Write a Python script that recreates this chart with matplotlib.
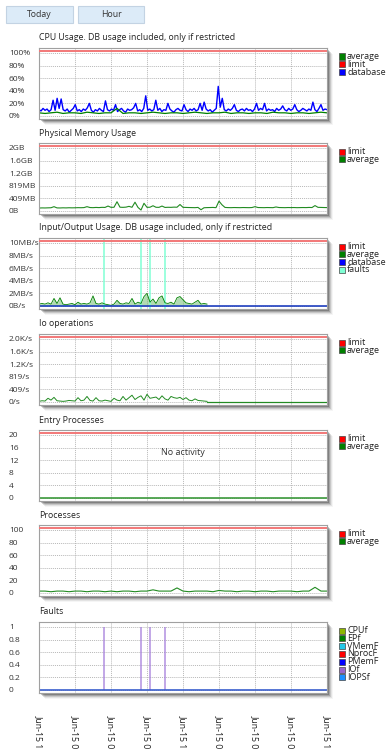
import numpy as np
import matplotlib.pyplot as plt
from matplotlib.patches import Rectangle

plt.rcParams['font.family'] = ['Open Sans', 'DejaVu Sans']

W, H = 386, 750

# Data

# only the visible start of each time label survives at the bottom edge
x_labels = ['Jun-15 1', 'Jun-15 0', 'Jun-15 0', 'Jun-15 0', 'Jun-15 1',
            'Jun-15 0', 'Jun-15 0', 'Jun-15 0', 'Jun-15 1']

cpu_db = [10, 8, 12, 9, 11, 7, 10, 25, 9, 28, 12, 27,
          10, 8, 11, 6, 9, 12, 18, 8, 10, 7, 11, 9,
          13, 20, 9, 6, 10, 8, 12, 9, 7, 24, 10, 8,
          11, 9, 18, 7, 10, 12, 8, 6, 11, 9, 10, 13,
          20, 8, 10, 7, 12, 32, 9, 11, 8, 10, 25, 9,
          12, 7, 10, 9, 20, 11, 8, 6, 10, 12, 9, 8,
          18, 10, 7, 11, 9, 12, 8, 10, 20, 9, 22, 11,
          8, 10, 6, 9, 12, 47, 14, 28, 10, 8, 11, 9,
          12, 18, 9, 7, 10, 11, 8, 12, 9, 10, 7, 11,
          20, 9, 12, 10, 20, 8, 11, 9, 10, 7, 12, 9,
          11, 16, 10, 8, 12, 9, 11, 18, 10, 7, 9, 12,
          10, 8, 11, 9, 22, 10, 7, 12, 18, 9, 11, 10]
cpu_avg = [5, 4, 5, 6, 4, 5, 5, 4, 6, 5, 4, 5,
           5, 12, 4, 5, 5, 4, 5, 6, 5, 4, 5, 5,
           4, 5, 6, 5, 4, 5, 5, 6, 4, 5, 5, 4,
           5, 5, 4, 6, 5, 5, 4, 5, 5, 4, 5, 6, 5]
cpu_limit = 103

mem_avg = [95, 100, 98, 102, 105, 140, 100, 98, 103, 100, 105, 102,
           104, 108, 106, 110, 140, 112, 108, 115, 110, 118, 115, 160,
           118, 120, 300, 122, 118, 125, 150, 120, 285, 115, 30, 250,
           118, 122, 170, 120, 118, 160, 115, 120, 118, 125, 122, 210,
           118, 115, 112, 110, 108, 115, 40, 105, 110, 112, 115, 108,
           320, 200, 115, 110, 108, 112, 110, 108, 112, 110, 108, 112,
           140, 112, 110, 108, 112, 110, 108, 130, 112, 110, 108, 112,
           110, 112, 108, 110, 112, 110, 115, 112, 175, 118, 115, 112, 110]
mem_limit = 2110

io_end = 14
io_avg = [0.3, 0.4, 0.3, 0.5, 0.3, 1.2, 0.4, 1.3, 0.3, 0.2, 0.3, 0.4,
          0.2, 0.6, 0.3, 0.4, 0.3, 0.5, 1.6, 0.4, 0.3, 0.5, 0.3, 0.2,
          0.1, 0.3, 0.9, 0.4, 0.3, 0.5, 0.4, 1.2, 0.3, 0.6, 0.4, 1.5,
          2.0, 0.6, 1.1, 0.4, 1.3, 1.6, 0.5, 0.4, 0.6, 0.3, 1.3, 1.5,
          1.0, 0.5, 0.4, 0.3, 0.6, 0.9, 0.3, 0.4, 0.3]
io_db = [0, 0]
io_limit = 10.3
fault_times = [5.4, 8.5, 9.25, 10.5]

ops_avg = [20, 40, 30, 120, 60, 150, 40, 30, 20, 30, 50, 40,
           30, 140, 40, 60, 180, 50, 30, 140, 40, 30, 60, 40,
           20, 120, 60, 40, 180, 60, 140, 220, 80, 150, 200, 60,
           250, 120, 140, 160, 80, 200, 100, 60, 180, 140, 120, 150,
           80, 140, 60, 40, 100, 50, 40, 30, 20]
ops_tail = [0, 0]
ops_limit = 2110

ep_avg = [0, 0]
ep_limit = 20.6

proc_avg = [3, 3, 2, 3, 3, 2, 3, 3, 2, 3, 3, 2,
            3, 2, 3, 3, 2, 3, 3, 5, 3, 3, 3, 8,
            3, 2, 3, 3, 3, 2, 4, 3, 3, 2, 3, 3,
            2, 3, 3, 2, 3, 3, 3, 2, 3, 3, 9, 3, 3]
proc_limit = 103

fault_zero = [0, 0]

fig = plt.figure(figsize=(W / 100, H / 100), dpi=100)


def fx(x):
    return x / W


def fy(y):
    return 1 - y / H


def panel(top, title, yticks, ylabels, limit, h=71):
    ax = fig.add_axes([fx(39), fy(top + h), 288 / W, h / H])
    T = yticks[-1]
    ax.set_xlim(0, 24)
    ax.set_ylim(-0.048 * T, 1.079 * T)
    ax.set_xticks(np.arange(0, 25, 3))
    ax.set_yticks(yticks)
    ax.set_yticklabels(ylabels, ha='left')
    ax.tick_params(length=0, labelsize=6, labelcolor='#333333')
    ax.tick_params(axis='y', pad=21.6)
    ax.tick_params(axis='x', labelbottom=False)
    ax.grid(True, color='#b8b8b8', lw=0.7, ls=(0, (1, 1)))
    ax.set_axisbelow(True)
    for s in ax.spines.values():
        s.set_color('#a0a0a0')
        s.set_linewidth(0.8)
    ax.axhline(limit, color='#f27878', lw=1.4, zorder=3)
    fig.text(fx(39), fy(top - 10), title, fontsize=6.3, va='center', ha='left', color='#222222')
    # drop shadow
    for off, a in [(1, 0.28), (2, 0.22), (3, 0.17), (4, 0.12), (5, 0.07), (6, 0.04)]:
        fig.patches.append(Rectangle((fx(39 + off), fy(top + h + off)), 288 / W, h / H,
                                     transform=fig.transFigure, fc='black', ec='none',
                                     alpha=a, zorder=-1))
    return ax


def legend(top, items):
    for j, (name, color) in enumerate(items):
        y = top + 8.5 + 7.8 * j
        fig.patches.append(Rectangle((fx(339), fy(y + 3)), 6 / W, 6 / H,
                                     transform=fig.transFigure, fc=color, ec='#444444', lw=0.5))
        fig.text(fx(347), fy(y), name, fontsize=6.5, va='center', ha='left', color='#222222')


# Buttons
for x0, x1, label in [(6, 73, 'Today'), (78, 144, 'Hour')]:
    fig.patches.append(Rectangle((fx(x0), fy(23)), (x1 - x0) / W, 17 / H,
                                 transform=fig.transFigure, fc='#dcebf8', ec='#c3d3e3', lw=0.8))
    fig.text(fx((x0 + x1) / 2), fy(14.5), label, fontsize=6.3, ha='center', va='center', color='#333333')

# CPU
ax = panel(48, 'CPU Usage. DB usage included, only if restricted',
           [0, 20, 40, 60, 80, 100], ['0%', '20%', '40%', '60%', '80%', '100%'], cpu_limit)
ax.plot(np.linspace(0, 24, len(cpu_db)), cpu_db, color='#0000ff', lw=1.0)
ax.plot(np.linspace(0, 24, len(cpu_avg)), cpu_avg, color='#008000', lw=0.9)
legend(48, [('average', '#008000'), ('limit', '#ff0000'), ('database', '#0000ff')])

# Memory
ax = panel(143, 'Physical Memory Usage',
           [0, 409.6, 819.2, 1228.8, 1638.4, 2048], ['0B', '409MB', '819MB', '1.2GB', '1.6GB', '2GB'], mem_limit)
ax.plot(np.linspace(0, 24, len(mem_avg)), mem_avg, color='#228b22', lw=0.8)
legend(143, [('limit', '#ff0000'), ('average', '#008000')])

# IO
ax = panel(238, 'Input/Output Usage. DB usage included, only if restricted',
           [0, 2, 4, 6, 8, 10], ['0B/s', '2MB/s', '4MB/s', '6MB/s', '8MB/s', '10MB/s'], io_limit)
for t in fault_times:
    ax.axvline(t, color='#7fffd4', lw=1.2, alpha=0.9)
t_io = np.linspace(0, io_end, len(io_avg))
ax.fill_between(t_io, io_avg, color='#66b866', alpha=0.5, lw=0)
ax.plot(t_io, io_avg, color='#008000', lw=0.6)
ax.plot([0, 24], io_db, color='#2040c0', lw=1.2)
legend(238, [('limit', '#ff0000'), ('average', '#008000'), ('database', '#0000ff'), ('faults', '#7fffd4')])

# IO operations
ax = panel(334, 'Io operations',
           [0, 409.6, 819.2, 1228.8, 1638.4, 2048], ['0/s', '409/s', '819/s', '1.2K/s', '1.6K/s', '2.0K/s'], ops_limit)
ax.plot(np.linspace(0, io_end, len(ops_avg)), ops_avg, color='#228b22', lw=0.7)
ax.plot([io_end, 24], ops_tail, color='#228b22', lw=0.9)
legend(334, [('limit', '#ff0000'), ('average', '#008000')])

# Entry processes
ax = panel(430, 'Entry Processes', [0, 4, 8, 12, 16, 20], ['0', '4', '8', '12', '16', '20'], ep_limit)
ax.plot([0, 24], ep_avg, color='#3c9a3c', lw=1.2)
ax.text(0.5, 0.69, 'No activity', transform=ax.transAxes, ha='center', va='center',
        fontsize=6.5, color='#333333')
legend(430, [('limit', '#ff0000'), ('average', '#008000')])

# Processes
ax = panel(525, 'Processes', [0, 20, 40, 60, 80, 100], ['0', '20', '40', '60', '80', '100'], proc_limit)
ax.plot(np.linspace(0, 24, len(proc_avg)), proc_avg, color='#228b22', lw=0.8)
legend(525, [('limit', '#ff0000'), ('average', '#008000')])

# Faults
ax = panel(622, 'Faults', [0, 0.2, 0.4, 0.6, 0.8, 1], ['0', '0.2', '0.4', '0.6', '0.8', '1'], 2)
ax.set_ylim(-0.048, 1.079)
for t in fault_times:
    ax.vlines(t, 0, 1, color='#a57fdc', lw=1.2, alpha=0.8)
ax.plot([0, 24], fault_zero, color='#3a5fcd', lw=1.2)
ax.set_xticklabels(x_labels, rotation=270, fontsize=6.3, color='#222222')
ax.tick_params(axis='x', labelbottom=True, pad=15.5)
legend(622, [('CPUf', '#8db600'), ('EPf', '#008000'), ('VMemF', '#22c8e8'), ('NprocF', '#ff0000'),
             ('PMemF', '#0000ff'), ('IOf', '#9966cc'), ('IOPSf', '#1e90ff')])

fig.savefig('out.png', dpi=100)
